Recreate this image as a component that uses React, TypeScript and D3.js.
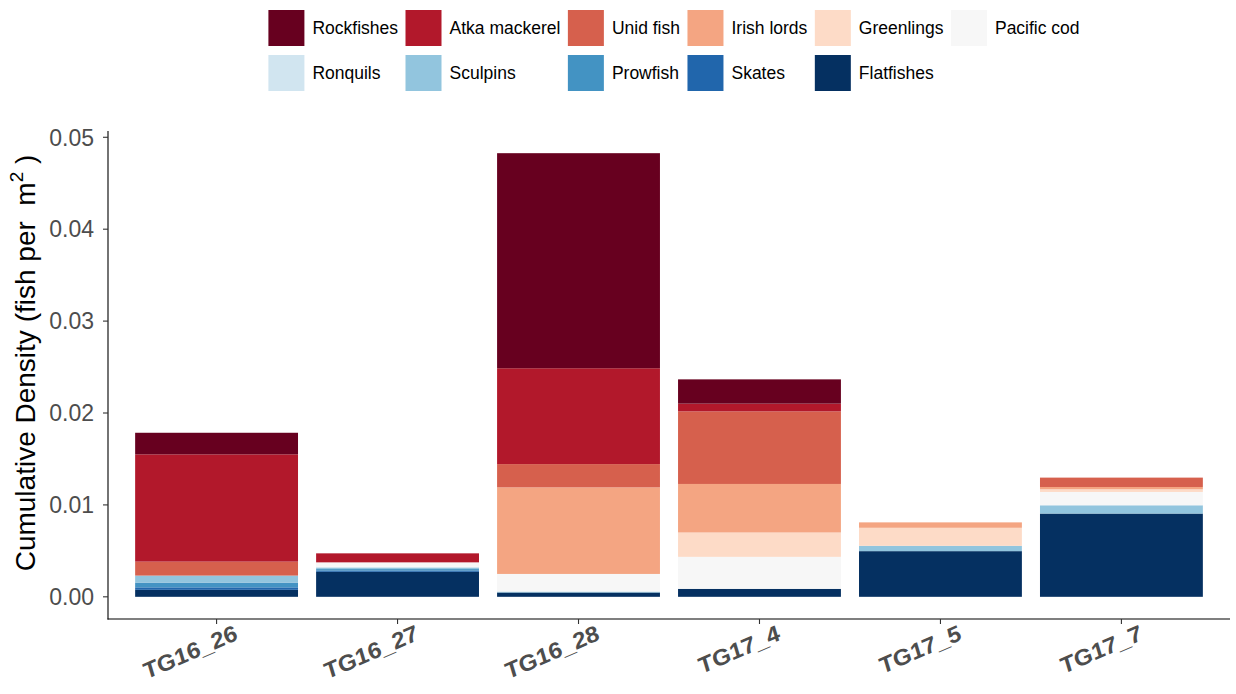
import React, { useEffect, useRef } from "react";
import * as d3 from "d3";

const samples = ["TG16_26", "TG16_27", "TG16_28", "TG17_4", "TG17_5", "TG17_7"];

// legend order (top of stack first)
const legendOrder = [
  "Rockfishes", "Atka mackerel", "Unid fish", "Irish lords", "Greenlings", "Pacific cod",
  "Ronquils", "Sculpins", "Prowfish", "Skates", "Flatfishes",
];
const palette = [
  "#67001f", "#b2182b", "#d6604d", "#f4a582", "#fddbc7", "#f7f7f7",
  "#d1e5f0", "#92c5de", "#4393c3", "#2166ac", "#053061",
];

const rockfishes = [0.00235, 0, 0.0234, 0.00264, 0, 0];
const atkaMackerel = [0.01167, 0.00098, 0.01043, 0.00084, 0, 0];
const unidFish = [0.00152, 0, 0.00253, 0.0079, 0, 0.00102];
const irishLords = [0, 0, 0.00942, 0.00528, 0.00059, 0.00025];
const greenlings = [0, 0, 0, 0.00265, 0.00196, 0.00029];
const pacificCod = [0, 0.00048, 0.00192, 0.00348, 0, 0.00145];
const ronquils = [0, 0.0001, 0, 0, 0, 0];
const sculpins = [0.00076, 0.00015, 0.0001, 0, 0.00058, 0.0009];
const prowfish = [0.00052, 0.00015, 0, 0, 0, 0];
const skates = [0.00027, 0.00015, 0, 0, 0, 0];
const flatfishes = [0.00076, 0.00272, 0.00047, 0.00087, 0.00497, 0.00906];

const seriesValues: Record<string, number[]> = {
  "Rockfishes": rockfishes,
  "Atka mackerel": atkaMackerel,
  "Unid fish": unidFish,
  "Irish lords": irishLords,
  "Greenlings": greenlings,
  "Pacific cod": pacificCod,
  "Ronquils": ronquils,
  "Sculpins": sculpins,
  "Prowfish": prowfish,
  "Skates": skates,
  "Flatfishes": flatfishes,
};

const yTicks = [0, 0.01, 0.02, 0.03, 0.04, 0.05];

const W = 1236;
const H = 694;

export default function App() {
  const ref = useRef<SVGSVGElement>(null);

  useEffect(() => {
    const svg = d3.select(ref.current);
    svg.selectAll("*").remove();

    const left = 108, right = 1230, top = 131, bottom = 619;
    const font = "Arial, 'Liberation Sans', sans-serif";

    const rows = samples.map((s, i) => {
      const r: any = { sample: s };
      legendOrder.forEach((k) => (r[k] = seriesValues[k][i]));
      return r;
    });
    const stackKeys = legendOrder.slice().reverse();
    const stacked = d3.stack().keys(stackKeys)(rows);
    const maxV = d3.max(stacked[stacked.length - 1], (d) => d[1]) as number;
    const ext = maxV * 0.05;

    const x = d3.scaleBand().domain(samples).range([left, right]).paddingInner(0.1).paddingOuter(0.15);
    const y = d3.scaleLinear().domain([-ext, maxV + ext]).range([bottom, top]);
    const color = d3.scaleOrdinal<string, string>().domain(legendOrder).range(palette);

    // bars
    const g = svg.append("g");
    stacked.forEach((layer) => {
      g.selectAll(null)
        .data(layer)
        .enter()
        .append("rect")
        .attr("x", (d: any) => x(d.data.sample) as number)
        .attr("width", x.bandwidth())
        .attr("y", (d) => y(d[1]))
        .attr("height", (d) => Math.max(0, y(d[0]) - y(d[1])))
        .attr("fill", color(layer.key));
    });

    // axes lines
    svg.append("line").attr("x1", left).attr("x2", left).attr("y1", top).attr("y2", bottom + 0.5)
      .attr("stroke", "#000").attr("stroke-width", 1.1);
    svg.append("line").attr("x1", left - 0.5).attr("x2", right).attr("y1", bottom).attr("y2", bottom)
      .attr("stroke", "#000").attr("stroke-width", 1.1);

    // y ticks
    yTicks.forEach((t) => {
      svg.append("line").attr("x1", left - 5).attr("x2", left).attr("y1", y(t)).attr("y2", y(t))
        .attr("stroke", "#333").attr("stroke-width", 1.1);
      svg.append("text").attr("x", left - 14).attr("y", y(t)).attr("dy", "0.36em")
        .attr("text-anchor", "end").attr("font-family", font).attr("font-size", 23)
        .attr("fill", "#4d4d4d").text(d3.format(".2f")(t));
    });

    // x ticks
    samples.forEach((s) => {
      const cx = (x(s) as number) + x.bandwidth() / 2;
      svg.append("line").attr("x1", cx).attr("x2", cx).attr("y1", bottom).attr("y2", bottom + 5)
        .attr("stroke", "#333").attr("stroke-width", 1.1);
      svg.append("text")
        .attr("transform", `translate(${cx + 15},${bottom + 5}) scale(1.12,1) rotate(-26)`)
        .attr("text-anchor", "end").attr("dy", "0.75em")
        .attr("font-family", font).attr("font-size", 22).attr("font-weight", "bold")
        .attr("font-style", "italic")
        .attr("fill", "#4d4d4d").text(s);
    });

    // y title
    const yt = svg.append("text")
      .attr("transform", `translate(35,${(top + bottom) / 2 - 12}) rotate(-90)`)
      .attr("text-anchor", "middle").attr("font-family", font).attr("font-size", 28).attr("fill", "#000")
      .style("white-space", "pre");
    yt.append("tspan").text("Cumulative Density (fish per  m");
    yt.append("tspan").attr("font-size", 19).attr("dy", -12).text("2");
    yt.append("tspan").attr("dy", 12).text(" )");

    // legend
    const keySize = 36;
    const rowY = [10, 55];
    const nCols = 6;
    const lfs = 17.5;
    const lg = svg.append("g");
    const widths = legendOrder.map((k) => {
      const t = lg.append("text").attr("font-family", font).attr("font-size", lfs).text(k);
      const w = (t.node() as SVGTextElement).getComputedTextLength();
      t.remove();
      return w;
    });
    const colW: number[] = [];
    for (let c = 0; c < nCols; c++) {
      let m = 0;
      for (let r = 0; r < 2; r++) {
        const idx = r * nCols + c;
        if (idx < legendOrder.length) m = Math.max(m, widths[idx]);
      }
      colW.push(m);
    }
    const gapKeyText = 8, gapCol = 7.5;
    const totalW = d3.sum(colW) + nCols * (keySize + gapKeyText) + (nCols - 1) * gapCol;
    const startX = (left + right) / 2 + 5 - totalW / 2;
    legendOrder.forEach((k, i) => {
      const r = Math.floor(i / nCols), c = i % nCols;
      let xx = startX;
      for (let j = 0; j < c; j++) xx += keySize + gapKeyText + colW[j] + gapCol;
      lg.append("rect").attr("x", xx).attr("y", rowY[r]).attr("width", keySize).attr("height", keySize)
        .attr("fill", color(k));
      lg.append("text").attr("x", xx + keySize + gapKeyText).attr("y", rowY[r] + keySize / 2).attr("dy", "0.36em")
        .attr("font-family", font).attr("font-size", lfs).attr("fill", "#000").text(k);
    });
  }, []);

  return (
    <svg ref={ref} width={W} height={H} style={{ display: "block", position: "absolute", left: 0, top: 0, background: "#fff" }} />
  );
}
